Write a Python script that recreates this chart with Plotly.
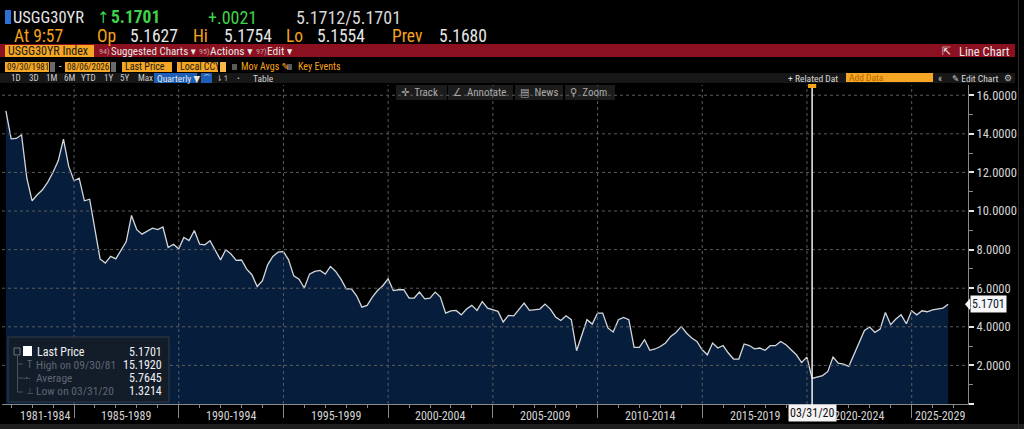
import plotly.graph_objects as go
import pandas as pd

# ---------------- data ----------------
FIRST_QUARTER_END = "1981-09-30"
yields = [
    15.192, 13.74,                      # 1981 Q3-Q4
    13.76, 13.95, 11.70, 10.53,          # 1982
    10.84, 11.10, 11.50, 12.01,          # 1983
    12.60, 13.72, 12.31, 11.57,          # 1984
    11.70, 10.53, 10.61, 9.00,           # 1985
    7.52, 7.30, 7.65, 7.52,              # 1986
    7.94, 8.42, 9.77, 9.03,              # 1987
    8.80, 8.97, 9.11, 9.04,              # 1988
    9.17, 8.11, 8.28, 8.04,              # 1989
    8.63, 8.47, 8.99, 8.28,              # 1990
    8.25, 8.46, 7.95, 7.47,              # 1991
    7.99, 7.77, 7.44, 7.46,              # 1992
    6.99, 6.70, 6.09, 6.39,              # 1993
    7.21, 7.65, 7.87, 7.90,              # 1994
    7.47, 6.64, 6.47, 6.01,              # 1995
    6.73, 6.87, 6.92, 6.73,              # 1996
    7.13, 6.87, 6.47, 5.97,              # 1997
    5.97, 5.61, 5.02, 5.11,              # 1998
    5.54, 5.88, 6.13, 6.49,              # 1999
    5.88, 5.92, 5.92, 5.49,              # 2000
    5.49, 5.80, 5.45, 5.49,              # 2001
    5.80, 5.54, 4.71, 4.83,              # 2002
    4.85, 4.62, 4.92, 5.11,              # 2003
    4.85, 5.31, 4.97, 4.88,              # 2004
    4.80, 4.25, 4.59, 4.57,              # 2005
    4.92, 5.23, 4.85, 4.87,              # 2006
    4.92, 5.18, 4.92, 4.51,              # 2007
    4.33, 4.57, 4.37, 2.76,              # 2008
    3.59, 4.37, 4.14, 4.71,              # 2009
    4.71, 3.94, 3.73, 4.37,              # 2010
    4.49, 4.37, 2.93, 2.93,              # 2011
    3.33, 2.78, 2.85, 2.98,              # 2012
    3.16, 3.50, 3.71, 4.02,              # 2013
    3.68, 3.42, 3.24, 2.81,              # 2014
    2.55, 3.16, 2.90, 3.03,              # 2015
    2.64, 2.33, 2.33, 3.11,              # 2016
    3.03, 2.86, 2.90, 2.78,              # 2017
    3.02, 3.02, 3.24, 3.07,              # 2018
    2.81, 2.55, 2.15, 2.43,              # 2019
    1.3214, 1.41, 1.47, 1.69,            # 2020
    2.43, 2.12, 2.07, 1.95,              # 2021
    2.55, 3.24, 3.81, 3.99,              # 2022
    3.71, 3.88, 4.74, 4.11,              # 2023
    4.40, 4.62, 4.16, 4.83,              # 2024
    4.62, 4.83, 4.78, 4.88,              # 2025
    4.94, 4.97, 5.1701,                  # 2026
]
dates = pd.date_range(FIRST_QUARTER_END, periods=len(yields), freq="QE")

period_labels = ["1981-1984", "1985-1989", "1990-1994", "1995-1999", "2000-2004",
                 "2005-2009", "2010-2014", "2015-2019", "2020-2024", "2025-2029"]
period_label_pos = ["1983-08-10", "1987-07-01", "1992-07-01", "1997-07-01", "2002-07-01",
                    "2007-07-01", "2012-07-01", "2017-07-01", "2022-07-01", "2026-05-10"]
period_starts = ["1985-01-01", "1990-01-01", "1995-01-01", "2000-01-01", "2005-01-01",
                 "2010-01-01", "2015-01-01", "2020-01-01", "2025-01-01"]
year_ticks = [f"{y}-01-01" for y in range(1982, 2028)]
y_ticks = [0, 2, 4, 6, 8, 10, 12, 14, 16]
y_minor = [1, 3, 5, 7, 9, 11, 13, 15]
x_range = ["1981-07-24", "2027-09-10"]
y_range = [0, 16.53]

LOW_DATE = "2020-03-31"
AVERAGE = 5.7645
last_val = yields[-1]
high_val = max(yields)
low_val = min(yields)

# ---------------- styling helpers ----------------
NARROW = "Roboto Condensed, DejaVu Sans Condensed, sans-serif"
SANS = "DejaVu Sans, sans-serif"
ORANGE = "#f7a21b"
BOX_ORANGE = "#f5a623"
WHITE = "#e6e6e6"
GREEN = "#3fd24a"
RED_BAR = "#8b1020"

PL, PR, PT, PB = 2, 968, 85, 404


def px(x):
    return (x - PL) / (PR - PL)


def py(y):
    return (PB - y) / (PB - PT)


shapes = []
annotations = []


def rect(x0, y0, x1, y1, color, line=None, layer="above"):
    shapes.append(dict(type="rect", xref="paper", yref="paper",
                       x0=px(x0), x1=px(x1), y0=py(y1), y1=py(y0),
                       fillcolor=color, layer=layer,
                       line=dict(width=1 if line else 0, color=line or color)))


def txt(x, y, s, color=WHITE, size=12, family=NARROW, anchor="left", bg=None):
    d = dict(xref="paper", yref="paper", x=px(x), y=py(y), text=s, showarrow=False,
             xanchor=anchor, yanchor="middle", borderpad=0,
             font=dict(color=color, size=size, family=family))
    if bg:
        d["bgcolor"] = bg
    annotations.append(d)


# ---------------- header ----------------
rect(5, 10, 11, 24, "#2f6fd6")
txt(12, 17, "USGG30YR", WHITE, 16.5)
txt(96, 17, "↑", GREEN, 16)
txt(110, 17, "<b>5.1701</b>", GREEN, 17.5)
txt(207, 17, "+.0021", GREEN, 18)
txt(295, 17, "5.1712/5.1701", "#d8d8d8", 18)

txt(13, 36, "At 9:57", ORANGE, 17.5)
txt(96, 36, "Op", ORANGE, 17.5)
txt(129, 36, "5.1627", WHITE, 17.5)
txt(192, 36, "Hi", ORANGE, 17.5)
txt(223, 36, "5.1754", WHITE, 17.5)
txt(285, 36, "Lo", ORANGE, 17.5)
txt(316, 36, "5.1554", WHITE, 17.5)
txt(391, 36, "Prev", ORANGE, 17.5)
txt(438, 36, "5.1680", WHITE, 17.5)

rect(0, 44, 1015, 57, RED_BAR)
rect(5, 45, 94, 57, BOX_ORANGE)
txt(7, 51, "USGG30YR Index", "#1a1a1a", 12)
txt(98, 51, "94)", "#c8a0a8", 8)
txt(110, 51, "Suggested Charts ▾", WHITE, 11)
txt(198, 51, "95)", "#c8a0a8", 8)
txt(209, 51, "Actions ▾", WHITE, 11.5)
txt(255, 51, "97)", "#c8a0a8", 8)
txt(266, 51, "Edit ▾", WHITE, 11.5)
txt(941, 51, "⇱", WHITE, 11, SANS)
txt(958, 51, "Line Chart", WHITE, 12.5)

# row 4
rect(5, 62, 49, 72, BOX_ORANGE)
txt(5.5, 67, "09/30/1981", "#1a1a1a", 9)
rect(50, 62, 55, 72, "#6a6a6a")
txt(58, 67, "-", WHITE, 10)
rect(65, 62, 110, 72, BOX_ORANGE)
txt(65.5, 67, "08/06/2026", "#1a1a1a", 9)
rect(111, 62, 116, 72, "#6a6a6a")
rect(122, 62, 172, 72, BOX_ORANGE)
txt(124, 67, "Last Price", "#1a1a1a", 10)
rect(177, 62, 218, 72, BOX_ORANGE)
txt(179, 67, "Local CCY", "#1a1a1a", 10)
rect(220, 62, 226, 72, "#f7b84a")
rect(232, 64, 237, 70, "#5a5a5a")
txt(240, 67, "Mov Avgs ✎", ORANGE, 10)
rect(287, 64, 292, 70, "#5a5a5a")
txt(297, 67, "Key Events", ORANGE, 10)

# row 5
rect(0, 73, 1015, 83, "#171717")
for lbl, xx in [("1D", 10), ("3D", 28), ("1M", 45), ("6M", 63), ("YTD", 80),
                ("1Y", 103), ("5Y", 119), ("Max", 137)]:
    txt(xx, 78, lbl, "#d0d0d0", 9)
rect(154, 73, 197, 83, "#1d5fb8")
txt(156, 78, "Quarterly ▼", WHITE, 9.5)
rect(201, 73, 212, 83, "#1d5fb8")
txt(202, 78, "⌒", WHITE, 8, SANS)
txt(215, 78, "⇂↿", "#c0c0c0", 8, SANS)
txt(236, 78, "•", "#c0c0c0", 8)
txt(252, 78, "Table", "#d0d0d0", 9.5)
txt(787, 78, "+ Related Dat", "#d8d8d8", 9.5)
rect(846, 73, 933, 82, BOX_ORANGE)
txt(848, 77.5, "Add Data", "#b86400", 9.5)
txt(937, 78, "«", "#c0c0c0", 10)
txt(951, 78, "✎ Edit Chart", "#d8d8d8", 9.5)
txt(1003, 78, "⚙", "#c0c0c0", 9, SANS)

# toolbar row inside plot
for x0, x1, lbl in [(396, 447, "✛  Track"), (448, 513, "∠  Annotate"),
                    (515, 563, "▤  News"), (565, 615, "⚲  Zoom")]:
    rect(x0, 85, x1, 100, "#1c1c1c")
    txt(x0 + 4, 92.5, lbl, "#a8a8a8", 11)

# ---------------- gridlines (above the area fill) ----------------
for v in y_ticks[1:]:
    shapes.append(dict(type="line", xref="paper", yref="y", x0=0, x1=1, y0=v, y1=v,
                       line=dict(color="#5c5c5c", width=1, dash="dot"), layer="above"))
for d in period_starts:
    shapes.append(dict(type="line", xref="x", yref="paper", x0=d, x1=d, y0=0, y1=1,
                       line=dict(color="#5c5c5c", width=1, dash="dot"), layer="above"))

# low-date marker line
shapes.append(dict(type="line", xref="x", yref="paper", x0=LOW_DATE, x1=LOW_DATE,
                   y0=py(419), y1=py(85), line=dict(color="#f0f0f0", width=1.5), layer="above"))
shapes.append(dict(type="rect", xref="x", yref="paper", x0="2020-01-20", x1="2020-06-10",
                   y0=py(88), y1=py(84), fillcolor=ORANGE, line=dict(width=0), layer="above"))
annotations.append(dict(xref="x", yref="paper", x=LOW_DATE, y=py(412.5), text="03/31/20",
                        showarrow=False, xanchor="center", yanchor="middle",
                        bgcolor="#f4f4f4", borderpad=1,
                        font=dict(color="#111111", size=12, family=NARROW)))

# period labels under the axis
for lbl, pos in zip(period_labels, period_label_pos):
    annotations.append(dict(xref="x", yref="paper", x=pos, y=py(416), text=lbl,
                            showarrow=False, xanchor="center", yanchor="middle",
                            font=dict(color="#d4d4d4", size=12, family=NARROW)))

# last value tag on the right axis
annotations.append(dict(xref="paper", yref="y", x=px(970), y=last_val,
                        text=f"{last_val:.4f}", showarrow=False, xanchor="left",
                        yanchor="middle", bgcolor="#f6f6f6", borderpad=1,
                        font=dict(color="#0b1a33", size=12, family=NARROW)))
shapes.append(dict(type="path", xref="paper", yref="y",
                   path=f"M {px(965)},{last_val} L {px(970)},{last_val + 0.3} "
                        f"L {px(970)},{last_val - 0.3} Z",
                   fillcolor="#f6f6f6", line=dict(width=0), layer="above"))

# ---------------- legend box ----------------
shapes.append(dict(type="rect", xref="paper", yref="paper", x0=px(8), x1=px(169),
                   y0=py(402), y1=py(337), fillcolor="#131c29",
                   line=dict(color="#333c48", width=1), layer="above"))
shapes.append(dict(type="line", xref="paper", yref="paper", x0=px(17.5), x1=px(17.5),
                   y0=py(356), y1=py(392), line=dict(color="#4a5260", width=1), layer="above"))
for yy in (364, 378, 392):
    shapes.append(dict(type="line", xref="paper", yref="paper", x0=px(17.5), x1=px(23),
                       y0=py(yy), y1=py(yy), line=dict(color="#4a5260", width=1), layer="above"))
rect(14, 348, 20, 355, "#131c29", line="#6a7280")
rect(23, 346, 32, 356, "#ffffff")
txt(36, 352, "Last Price", "#f0f0f0", 12)
txt(163, 352, f"{last_val:.4f}", "#f0f0f0", 12, anchor="right")
txt(26, 364.5, "T", "#5e6672", 10)
txt(35, 364.5, "High on 09/30/81", "#5e6672", 11.5)
txt(163, 364.5, f"{high_val:.4f}", "#f0f0f0", 12, anchor="right")
txt(22, 378, "-•-", "#5e6672", 9)
txt(35, 378, "Average", "#5e6672", 11.5)
txt(163, 378, f"{AVERAGE:.4f}", "#f0f0f0", 12, anchor="right")
txt(25, 391, "⊥", "#5e6672", 9, SANS)
txt(35, 391, "Low on 03/31/20", "#5e6672", 11.5)
txt(163, 391, f"{low_val:.4f}", "#f0f0f0", 12, anchor="right")

# bottom status strip & right border
rect(0, 424, 1024, 429, "#1e1e1e", layer="below")
rect(1018, 0, 1019, 429, "#2a2a2a", layer="below")

# ---------------- figure ----------------
fig = go.Figure()
fig.add_trace(go.Scatter(x=dates, y=yields, mode="lines",
                         line=dict(color="#d3d6da", width=1.3),
                         fill="tozeroy", fillcolor="#061e3b",
                         hoverinfo="skip", showlegend=False))

fig.update_layout(
    width=1024, height=429, autosize=False,
    margin=dict(l=PL, r=1024 - PR, t=PT, b=429 - PB, pad=0),
    paper_bgcolor="#000000", plot_bgcolor="#000000",
    showlegend=False,
    shapes=shapes, annotations=annotations,
    xaxis=dict(type="date", range=x_range, showgrid=False, zeroline=False,
               showline=True, linecolor="#8a8a8a", linewidth=1,
               ticks="outside", tickmode="array", tickvals=period_starts,
               ticklen=13, tickwidth=1, tickcolor="#8a8a8a", showticklabels=False,
               minor=dict(tickmode="array", tickvals=year_ticks, ticks="outside",
                          ticklen=3, tickcolor="#8a8a8a", tickwidth=1, showgrid=False)),
    yaxis=dict(side="right", range=y_range, showgrid=False, zeroline=False,
               showline=True, linecolor="#8a8a8a", linewidth=1,
               ticks="outside", tickmode="array", tickvals=y_ticks,
               ticktext=["" if v == 0 else f"{v:.4f}" for v in y_ticks],
               ticklen=5, tickwidth=2, tickcolor="#e8e8e8",
               tickfont=dict(color="#d6d6d6", size=12.5, family=NARROW),
               minor=dict(tickmode="array", tickvals=y_minor, ticks="outside",
                          ticklen=4, tickcolor="#8a8a8a", tickwidth=1, showgrid=False)),
)

fig.write_html("out.html", config={"responsive": False, "displayModeBar": False},
               post_script="document.body.style.margin='0';"
                           "document.body.style.overflow='hidden';")
